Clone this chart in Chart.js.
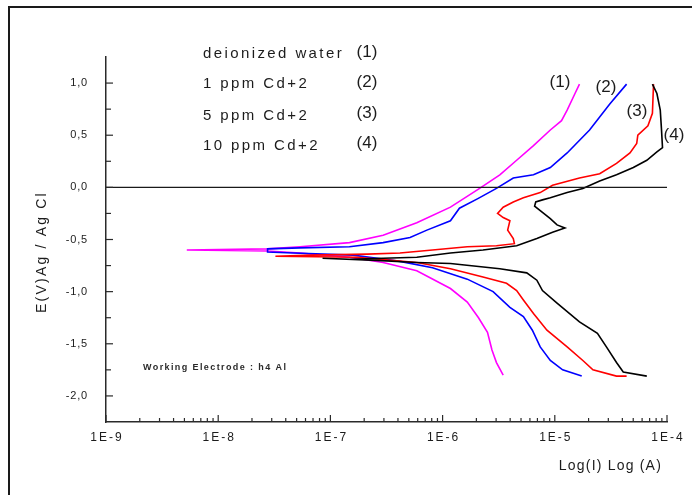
<!DOCTYPE html>
<html lang="en">
<head>
  <meta charset="UTF-8">
  <title>Polarization curves - Cd+2</title>
  <script src="https://cdn.jsdelivr.net/npm/chart.js"></script>
  <style>
    body { margin: 0; background: #fff; overflow: hidden; }
    #wrap { position: relative; width: 692px; height: 495px; }
    #frame { position: absolute; left: 8px; top: 6px; width: 720px; height: 520px;
             border-left: 2px solid #1a1a1a; border-top: 2px solid #1a1a1a; }
    canvas { position: absolute; left: 0; top: 0; }
  </style>
</head>
<body>
<div id="wrap">
  <div id="frame"></div>
  <canvas id="tafel" width="692" height="495"></canvas>
</div>

<script>
  // values: log10 of current (A) and potential (V)
  // each curve is listed from the anodic end (top) down to the cathodic end
  const waterLogI = [-4.78, -4.82, -4.89, -4.94, -5.04, -5.19, -5.34, -5.49, -5.67, -5.93, -6.23, -6.53, -6.83, -7.27, -7.56, -8.28,
                     -7.56, -7.27, -6.83, -6.53, -6.23, -5.93, -5.78, -5.68, -5.60, -5.56, -5.52, -5.46];
  const waterE    = [0.99, 0.90, 0.74, 0.64, 0.55, 0.40, 0.26, 0.12, -0.01, -0.19, -0.34, -0.46, -0.53, -0.57, -0.59, -0.60,
                     -0.61, -0.63, -0.67, -0.72, -0.80, -0.97, -1.10, -1.25, -1.39, -1.56, -1.68, -1.80];

  const cd1LogI = [-4.36, -4.51, -4.69, -4.89, -5.04, -5.19, -5.37, -5.52, -5.69, -5.85, -5.93, -6.14, -6.29, -6.53, -6.83, -7.27, -7.56,
                   -7.56, -7.33, -6.80, -6.38, -6.09, -5.78, -5.55, -5.40, -5.28, -5.20, -5.13, -5.04, -4.93, -4.76];
  const cd1E    = [0.99, 0.80, 0.55, 0.33, 0.19, 0.12, 0.09, -0.01, -0.11, -0.20, -0.32, -0.41, -0.48, -0.53, -0.57, -0.58, -0.59,
                   -0.62, -0.63, -0.65, -0.71, -0.77, -0.88, -1.00, -1.15, -1.24, -1.37, -1.53, -1.66, -1.75, -1.81];

  const cd5LogI = [-4.12, -4.13, -4.17, -4.26, -4.27, -4.33, -4.45, -4.60, -4.78, -5.02, -5.13, -5.28, -5.37, -5.46, -5.51, -5.46, -5.40,
                   -5.42, -5.37, -5.36, -5.52, -5.78, -6.09, -6.38, -6.67, -7.16, -7.49,
                   -6.76, -6.23, -5.93, -5.64, -5.43, -5.34, -5.28, -5.19, -5.07, -4.89, -4.75, -4.66, -4.45, -4.36];
  const cd5E    = [0.99, 0.71, 0.59, 0.50, 0.42, 0.33, 0.23, 0.13, 0.09, 0.02, -0.05, -0.10, -0.14, -0.19, -0.25, -0.29, -0.32,
                   -0.41, -0.49, -0.54, -0.56, -0.57, -0.60, -0.63, -0.64, -0.65, -0.66,
                   -0.67, -0.72, -0.78, -0.86, -0.92, -0.99, -1.08, -1.21, -1.37, -1.53, -1.66, -1.75, -1.81, -1.81];

  const cd10LogI = [-4.13, -4.09, -4.06, -4.05, -4.04, -4.09, -4.18, -4.30, -4.45, -4.60, -4.75, -4.89, -5.04, -5.11, -5.17, -5.18,
                    -5.11, -5.04, -4.98, -4.91, -5.02, -5.16, -5.34, -5.64, -5.93, -6.23, -6.53, -6.83, -7.07,
                    -6.59, -6.23, -5.93, -5.49, -5.25, -5.16, -5.11, -4.98, -4.78, -4.62, -4.54, -4.45, -4.39, -4.18];
  const cd10E    = [0.99, 0.90, 0.74, 0.57, 0.38, 0.34, 0.26, 0.19, 0.12, 0.06, -0.01, -0.05, -0.10, -0.12, -0.14, -0.18,
                    -0.24, -0.30, -0.36, -0.39, -0.43, -0.49, -0.56, -0.60, -0.63, -0.67, -0.68, -0.69, -0.68,
                    -0.70, -0.72, -0.73, -0.78, -0.82, -0.89, -0.99, -1.11, -1.29, -1.40, -1.53, -1.68, -1.77, -1.81];

  const legendLines = ['deionized water', '1 ppm Cd+2', '5 ppm Cd+2', '10 ppm Cd+2'];
  const curveTags = ['(1)', '(2)', '(3)', '(4)'];

  const xDecades = [-9, -8, -7, -6, -5, -4];
  const xTickLabels = ['1E-9', '1E-8', '1E-7', '1E-6', '1E-5', '1E-4'];
  const yTicks = [1.0, 0.5, 0.0, -0.5, -1.0, -1.5, -2.0];
  const yTickLabels = ['1,0', '0,5', '0,0', '-0,5', '-1,0', '-1,5', '-2,0'];
  const yMinorTicks = [0.75, 0.25, -0.25, -0.75, -1.25, -1.75];

  const toPoints = (logI, e) => logI.map((l, i) => ({ x: Math.pow(10, l), y: e[i] }));

  const FONT = 'Arial, "Liberation Sans", sans-serif';
  const NARROW = '"Liberation Sans Narrow", "Arial Narrow", Arial, sans-serif';

  function drawText(ctx, s, x, y, font, align, spacing, color) {
    ctx.font = font;
    ctx.textAlign = align;
    ctx.textBaseline = 'middle';
    ctx.fillStyle = color || '#1c1c1c';
    if ('letterSpacing' in ctx) ctx.letterSpacing = (spacing || 0) + 'px';
    ctx.fillText(s, x, y);
    if ('letterSpacing' in ctx) ctx.letterSpacing = '0px';
  }

  // ticks point inward, labels and notes drawn from the chart's scales
  const axisDecor = {
    id: 'axisDecor',
    afterDraw(chart) {
      const ctx = chart.ctx;
      const xs = chart.scales.x, ys = chart.scales.y;
      const a = chart.chartArea;
      const seg = (x1, y1, x2, y2) => { ctx.beginPath(); ctx.moveTo(x1, y1); ctx.lineTo(x2, y2); ctx.stroke(); };

      ctx.save();
      ctx.strokeStyle = '#2a2a2a';
      ctx.lineWidth = 1.2;

      xDecades.forEach((d, i) => {
        const px = xs.getPixelForValue(Math.pow(10, d));
        seg(px, a.bottom, px, a.bottom - 7);
        drawText(ctx, xTickLabels[i], px + 1, a.bottom + 16, '12px ' + FONT, 'center', 2);
        if (i < xDecades.length - 1) {
          for (let m = 2; m <= 9; m++) {
            const p = xs.getPixelForValue(m * Math.pow(10, d));
            seg(p, a.bottom, p, a.bottom - 4);
          }
        }
      });

      yTicks.forEach((v, i) => {
        const py = ys.getPixelForValue(v);
        seg(a.left, py, a.left + 7, py);
        drawText(ctx, yTickLabels[i], a.left - 18, py, '11px ' + FONT, 'right', 0.8);
      });
      yMinorTicks.forEach(v => {
        const py = ys.getPixelForValue(v);
        seg(a.left, py, a.left + 5, py);
      });

      // axis titles
      ctx.save();
      ctx.translate(42, 252);
      ctx.rotate(-Math.PI / 2);
      drawText(ctx, 'E(V)Ag / Ag Cl', 0, 0, '14px ' + FONT, 'center', 2.2);
      ctx.restore();
      drawText(ctx, 'Log(I) Log (A)', 662, 466, '14px ' + FONT, 'right', 1.2);

      // legend block
      const legY = [54, 84, 116, 146];
      const tagY = [52, 82, 113, 143];
      legendLines.forEach((s, i) => {
        drawText(ctx, s, 203, legY[i], '15px ' + FONT, 'left', 2.4);
        drawText(ctx, curveTags[i], 367, tagY[i], '17px ' + NARROW, 'center', 0);
      });

      // labels next to the curve ends
      const tagPos = [[560, 82], [606, 87], [637, 111], [674, 135]];
      tagPos.forEach((p, i) => drawText(ctx, curveTags[i], p[0], p[1], '17px ' + NARROW, 'center', 0));

      drawText(ctx, 'Working Electrode : h4 Al', 143, 368, 'bold 9px ' + FONT, 'left', 1.4, '#2a2a2a');
      ctx.restore();
    }
  };

  const lineSet = (data, color) => ({
    data: data,
    showLine: true,
    borderColor: color,
    backgroundColor: color,
    borderWidth: 1.6,
    pointRadius: 0,
    tension: 0,
    fill: false
  });

  new Chart(document.getElementById('tafel').getContext('2d'), {
    type: 'scatter',
    data: {
      datasets: [
        Object.assign(lineSet([{ x: 1e-9, y: 0 }, { x: 1e-4, y: 0 }], '#1a1a1a'), { borderWidth: 1.2 }),
        lineSet(toPoints(cd10LogI, cd10E), '#000000'),
        lineSet(toPoints(cd5LogI, cd5E), '#ff0000'),
        lineSet(toPoints(cd1LogI, cd1E), '#0000ff'),
        lineSet(toPoints(waterLogI, waterE), '#ff00ff')
      ]
    },
    options: {
      responsive: false,
      animation: false,
      events: [],
      layout: { padding: { left: 0, top: 57, right: 25, bottom: 0 } },
      plugins: { legend: { display: false }, tooltip: { enabled: false } },
      scales: {
        x: {
          type: 'logarithmic',
          min: 1e-9,
          max: 1e-4,
          grid: { display: false },
          ticks: { display: false },
          border: { display: true, color: '#2a2a2a', width: 1.5 },
          afterFit: s => { s.height = 73; }
        },
        y: {
          type: 'linear',
          min: -2.25,
          max: 1.25,
          grid: { display: false },
          ticks: { display: false },
          border: { display: true, color: '#2a2a2a', width: 1.5 },
          afterFit: s => { s.width = 106; }
        }
      }
    },
    plugins: [axisDecor]
  });
</script>
</body>
</html>
